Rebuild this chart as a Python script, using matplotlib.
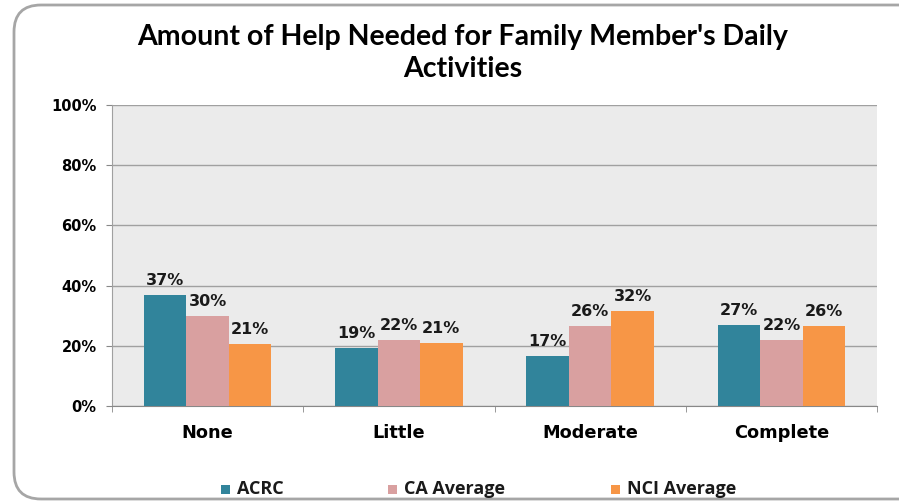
import matplotlib
matplotlib.use("Agg")
import matplotlib.pyplot as plt
import numpy as np
from matplotlib.patches import FancyBboxPatch, Rectangle

categories = ["None", "Little", "Moderate", "Complete"]
series_names = ["ACRC", "CA Average", "NCI Average"]
acrc = [36.9, 19.3, 16.6, 26.9]
ca_avg = [30.0, 21.9, 26.6, 21.9]
nci_avg = [20.6, 20.9, 31.6, 26.6]
labels_acrc = ["37%", "19%", "17%", "27%"]
labels_ca = ["30%", "22%", "26%", "22%"]
labels_nci = ["21%", "21%", "32%", "26%"]
yticks = [0, 20, 40, 60, 80, 100]
ytick_labels = ["0%", "20%", "40%", "60%", "80%", "100%"]
title = "Amount of Help Needed for Family Member's Daily\nActivities"

colors = ["#31849B", "#D9A0A0", "#F79646"]
W, H = 899, 501
fig = plt.figure(figsize=(W / 100, H / 100), dpi=100)
fig.patch.set_facecolor("white")

# rounded frame (runs off right edge)
frame = FancyBboxPatch((14 / W, 2 / H), 960 / W, 494 / H,
                       boxstyle="round,pad=0,rounding_size=0.03",
                       transform=fig.transFigure, fill=False,
                       edgecolor="#A6A6A6", linewidth=2.0, clip_on=False,
                       mutation_aspect=W / H)
fig.patches.append(frame)

ax = fig.add_axes([112 / W, 1 - 406 / H, (877 - 112) / W, (406 - 105) / H])
ax.set_facecolor("#EBEBEB")

x = np.arange(len(categories))
bw = 0.222
all_vals = [acrc, ca_avg, nci_avg]
all_labels = [labels_acrc, labels_ca, labels_nci]
for i, (vals, labs) in enumerate(zip(all_vals, all_labels)):
    pos = x + (i - 1) * bw
    ax.bar(pos, vals, width=bw, color=colors[i], zorder=3, linewidth=0)
    for p, v, l in zip(pos, vals, labs):
        ax.text(p, v + 2.2, l, ha="center", va="bottom", fontsize=11.5,
                fontweight="bold", family="DejaVu Sans", color="#1a1a1a", zorder=4)

ax.set_xlim(-0.5, len(categories) - 0.5)
ax.set_ylim(0, 100)
ax.set_yticks(yticks)
ax.set_yticklabels(ytick_labels, fontsize=10.5, fontweight="bold", family="DejaVu Sans")
ax.yaxis.grid(True, color="#A0A0A0", linewidth=1.0, zorder=0)
ax.set_axisbelow(True)

ax.set_xticks(x)
ax.set_xticklabels(categories, fontsize=12.8, fontweight="bold", family="DejaVu Sans")
ax.tick_params(axis="x", length=0, pad=13)
ax.set_xticks(np.arange(-0.5, len(categories), 1.0), minor=True)
ax.tick_params(axis="x", which="minor", length=4, color="#888888", direction="out")
ax.tick_params(axis="y", length=4, color="#888888", pad=7)

for s in ["top", "right"]:
    ax.spines[s].set_visible(False)
ax.spines["left"].set_color("#A0A0A0")
ax.spines["bottom"].set_color("#888888")

fig.text(463 / W, 1 - 53 / H, title, ha="center", va="center", fontsize=20.5,
         fontweight="bold", family="Lato", linespacing=1.3)

# legend
text_x = [237, 404, 627]
for name, c, tx in zip(series_names, colors, text_x):
    fig.patches.append(Rectangle(((tx - 16) / W, 1 - 494 / H), 9 / W, 9 / H,
                                 transform=fig.transFigure, facecolor=c, edgecolor="none"))
    fig.text(tx / W, 1 - 489 / H, name, ha="left", va="center", fontsize=13,
             fontweight="bold", family="Open Sans", color="#1a1a1a")

fig.savefig("out.png", dpi=100)
